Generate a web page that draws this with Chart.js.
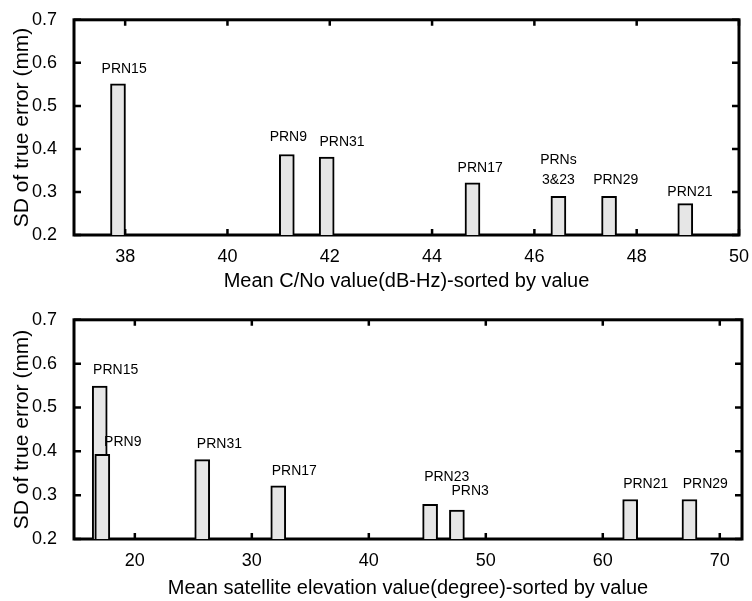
<!DOCTYPE html>
<html>
<head>
<meta charset="utf-8">
<script src="https://cdn.jsdelivr.net/npm/chart.js@4.4.1/dist/chart.umd.min.js"></script>
<style>
  html, body { margin: 0; padding: 0; background: #fff; }
  #wrap { position: relative; width: 752px; height: 601px; }
  .pane { position: absolute; left: 0; width: 752px; }
</style>
</head>
<body>
<div id="wrap">
  <div class="pane" style="top:0;height:300px"><canvas id="cnoChart" width="752" height="300"></canvas></div>
  <div class="pane" style="top:300px;height:301px"><canvas id="elevChart" width="752" height="301"></canvas></div>
</div>
<script>
// top panel: SD vs mean C/No
const cnoX = [37.86, 41.16, 41.94, 44.79, 46.47, 47.46, 48.95];
const cnoSd = [0.551, 0.387, 0.381, 0.321, 0.290, 0.290, 0.273];
const cnoTicks = [38, 40, 42, 44, 46, 48, 50];
const cnoLabels = ['PRN15', 'PRN9', 'PRN31', 'PRN17', 'PRNs', '3&23', 'PRN29', 'PRN21'];
const cnoLabelX = [37.98, 41.19, 42.24, 44.94, 46.47, 46.47, 47.59, 49.04];
const cnoLabelY = [0.585, 0.428, 0.415, 0.356, 0.373, 0.327, 0.327, 0.300];

// bottom panel: SD vs mean elevation
const elevX = [17.0, 17.22, 25.76, 32.26, 45.24, 47.53, 62.34, 67.41];
const elevSd = [0.549, 0.393, 0.381, 0.321, 0.279, 0.266, 0.290, 0.290];
const elevTicks = [20, 30, 40, 50, 60, 70];
const elevLabels = ['PRN15', 'PRN9', 'PRN31', 'PRN17', 'PRN23', 'PRN3', 'PRN21', 'PRN29'];
const elevLabelX = [18.36, 18.97, 27.23, 33.63, 46.66, 48.66, 63.67, 68.76];
const elevLabelY = [0.585, 0.422, 0.417, 0.355, 0.341, 0.309, 0.325, 0.325];

const sdTicks = [0.2, 0.3, 0.4, 0.5, 0.6, 0.7];

Chart.defaults.font.family = "'Liberation Sans', Arial, sans-serif";
Chart.defaults.color = '#000';

// matlab-like box with inward ticks on all four sides
const boxPlugin = {
  id: 'box',
  beforeDatasetsDraw(chart) {
    const {ctx, chartArea: a, scales: {x, y}} = chart;
    ctx.save();
    ctx.strokeStyle = '#000';
    ctx.lineWidth = 3;
    ctx.strokeRect(a.left, a.top, a.right - a.left, a.bottom - a.top);
    ctx.lineWidth = 2.5;
    ctx.beginPath();
    x.ticks.forEach(t => {
      const px = x.getPixelForValue(t.value);
      ctx.moveTo(px, a.bottom); ctx.lineTo(px, a.bottom - 6);
      ctx.moveTo(px, a.top); ctx.lineTo(px, a.top + 6);
    });
    y.ticks.forEach(t => {
      const py = y.getPixelForValue(t.value);
      ctx.moveTo(a.left, py); ctx.lineTo(a.left + 7, py);
      ctx.moveTo(a.right, py); ctx.lineTo(a.right - 7, py);
    });
    ctx.stroke();
    ctx.restore();
  }
};

// PRN text annotations, placed in data coordinates
const prnPlugin = {
  id: 'prn',
  afterDatasetsDraw(chart, args, opts) {
    const {ctx, scales: {x, y}} = chart;
    ctx.save();
    ctx.font = "14px 'Liberation Sans', Arial, sans-serif";
    ctx.fillStyle = '#000';
    ctx.textAlign = 'center';
    ctx.textBaseline = 'middle';
    opts.texts.forEach((txt, i) => {
      ctx.fillText(txt, x.getPixelForValue(opts.xs[i]), y.getPixelForValue(opts.ys[i]));
    });
    ctx.restore();
  }
};

function makeChart(id, xs, ys, xTicks, xMin, xMax, xTitle, xTitleBottom, padTop, padRight, xHeight, texts, lx, ly) {
  return new Chart(document.getElementById(id), {
    type: 'bar',
    data: {
      datasets: [{
        data: xs.map((v, i) => ({x: v, y: ys[i]})),
        backgroundColor: '#e6e6e6',
        borderColor: '#000',
        borderWidth: 2,
        barThickness: 15
      }]
    },
    options: {
      responsive: false,
      animation: false,
      layout: { padding: { top: padTop, right: padRight, left: 0, bottom: 0 } },
      plugins: {
        legend: { display: false },
        tooltip: { enabled: false },
        prn: { texts: texts, xs: lx, ys: ly }
      },
      scales: {
        x: {
          type: 'linear',
          min: xMin,
          max: xMax,
          offset: false,
          grid: { display: false, offset: false },
          border: { display: false },
          afterBuildTicks: s => { s.ticks = xTicks.map(v => ({value: v})); },
          afterFit: s => { s.height = xHeight; },
          ticks: {
            autoSkip: false,
            maxRotation: 0,
            padding: 3,
            font: { size: 18 },
            callback: v => String(v)
          },
          title: {
            display: true,
            text: xTitle,
            font: { size: 20 },
            padding: { top: 0, bottom: xTitleBottom }
          }
        },
        y: {
          min: 0.2,
          max: 0.7,
          grid: { display: false },
          border: { display: false },
          afterBuildTicks: s => { s.ticks = sdTicks.map(v => ({value: v})); },
          afterFit: s => { s.width = 74; },
          ticks: {
            padding: 9,
            font: { size: 18 },
            callback: v => v.toFixed(1)
          },
          title: {
            display: true,
            text: 'SD of true error (mm)',
            font: { size: 21 },
            padding: { top: 10, bottom: 0 }
          }
        }
      }
    },
    plugins: [boxPlugin, prnPlugin]
  });
}

makeChart('cnoChart', cnoX, cnoSd, cnoTicks, 37, 50,
  'Mean C/No value(dB-Hz)-sorted by value', 7, 14, 12, 65,
  cnoLabels, cnoLabelX, cnoLabelY);

makeChart('elevChart', elevX, elevSd, elevTicks, 14.8, 71.9,
  'Mean satellite elevation value(degree)-sorted by value', 1, 18, 10, 62,
  elevLabels, elevLabelX, elevLabelY);
</script>
</body>
</html>
